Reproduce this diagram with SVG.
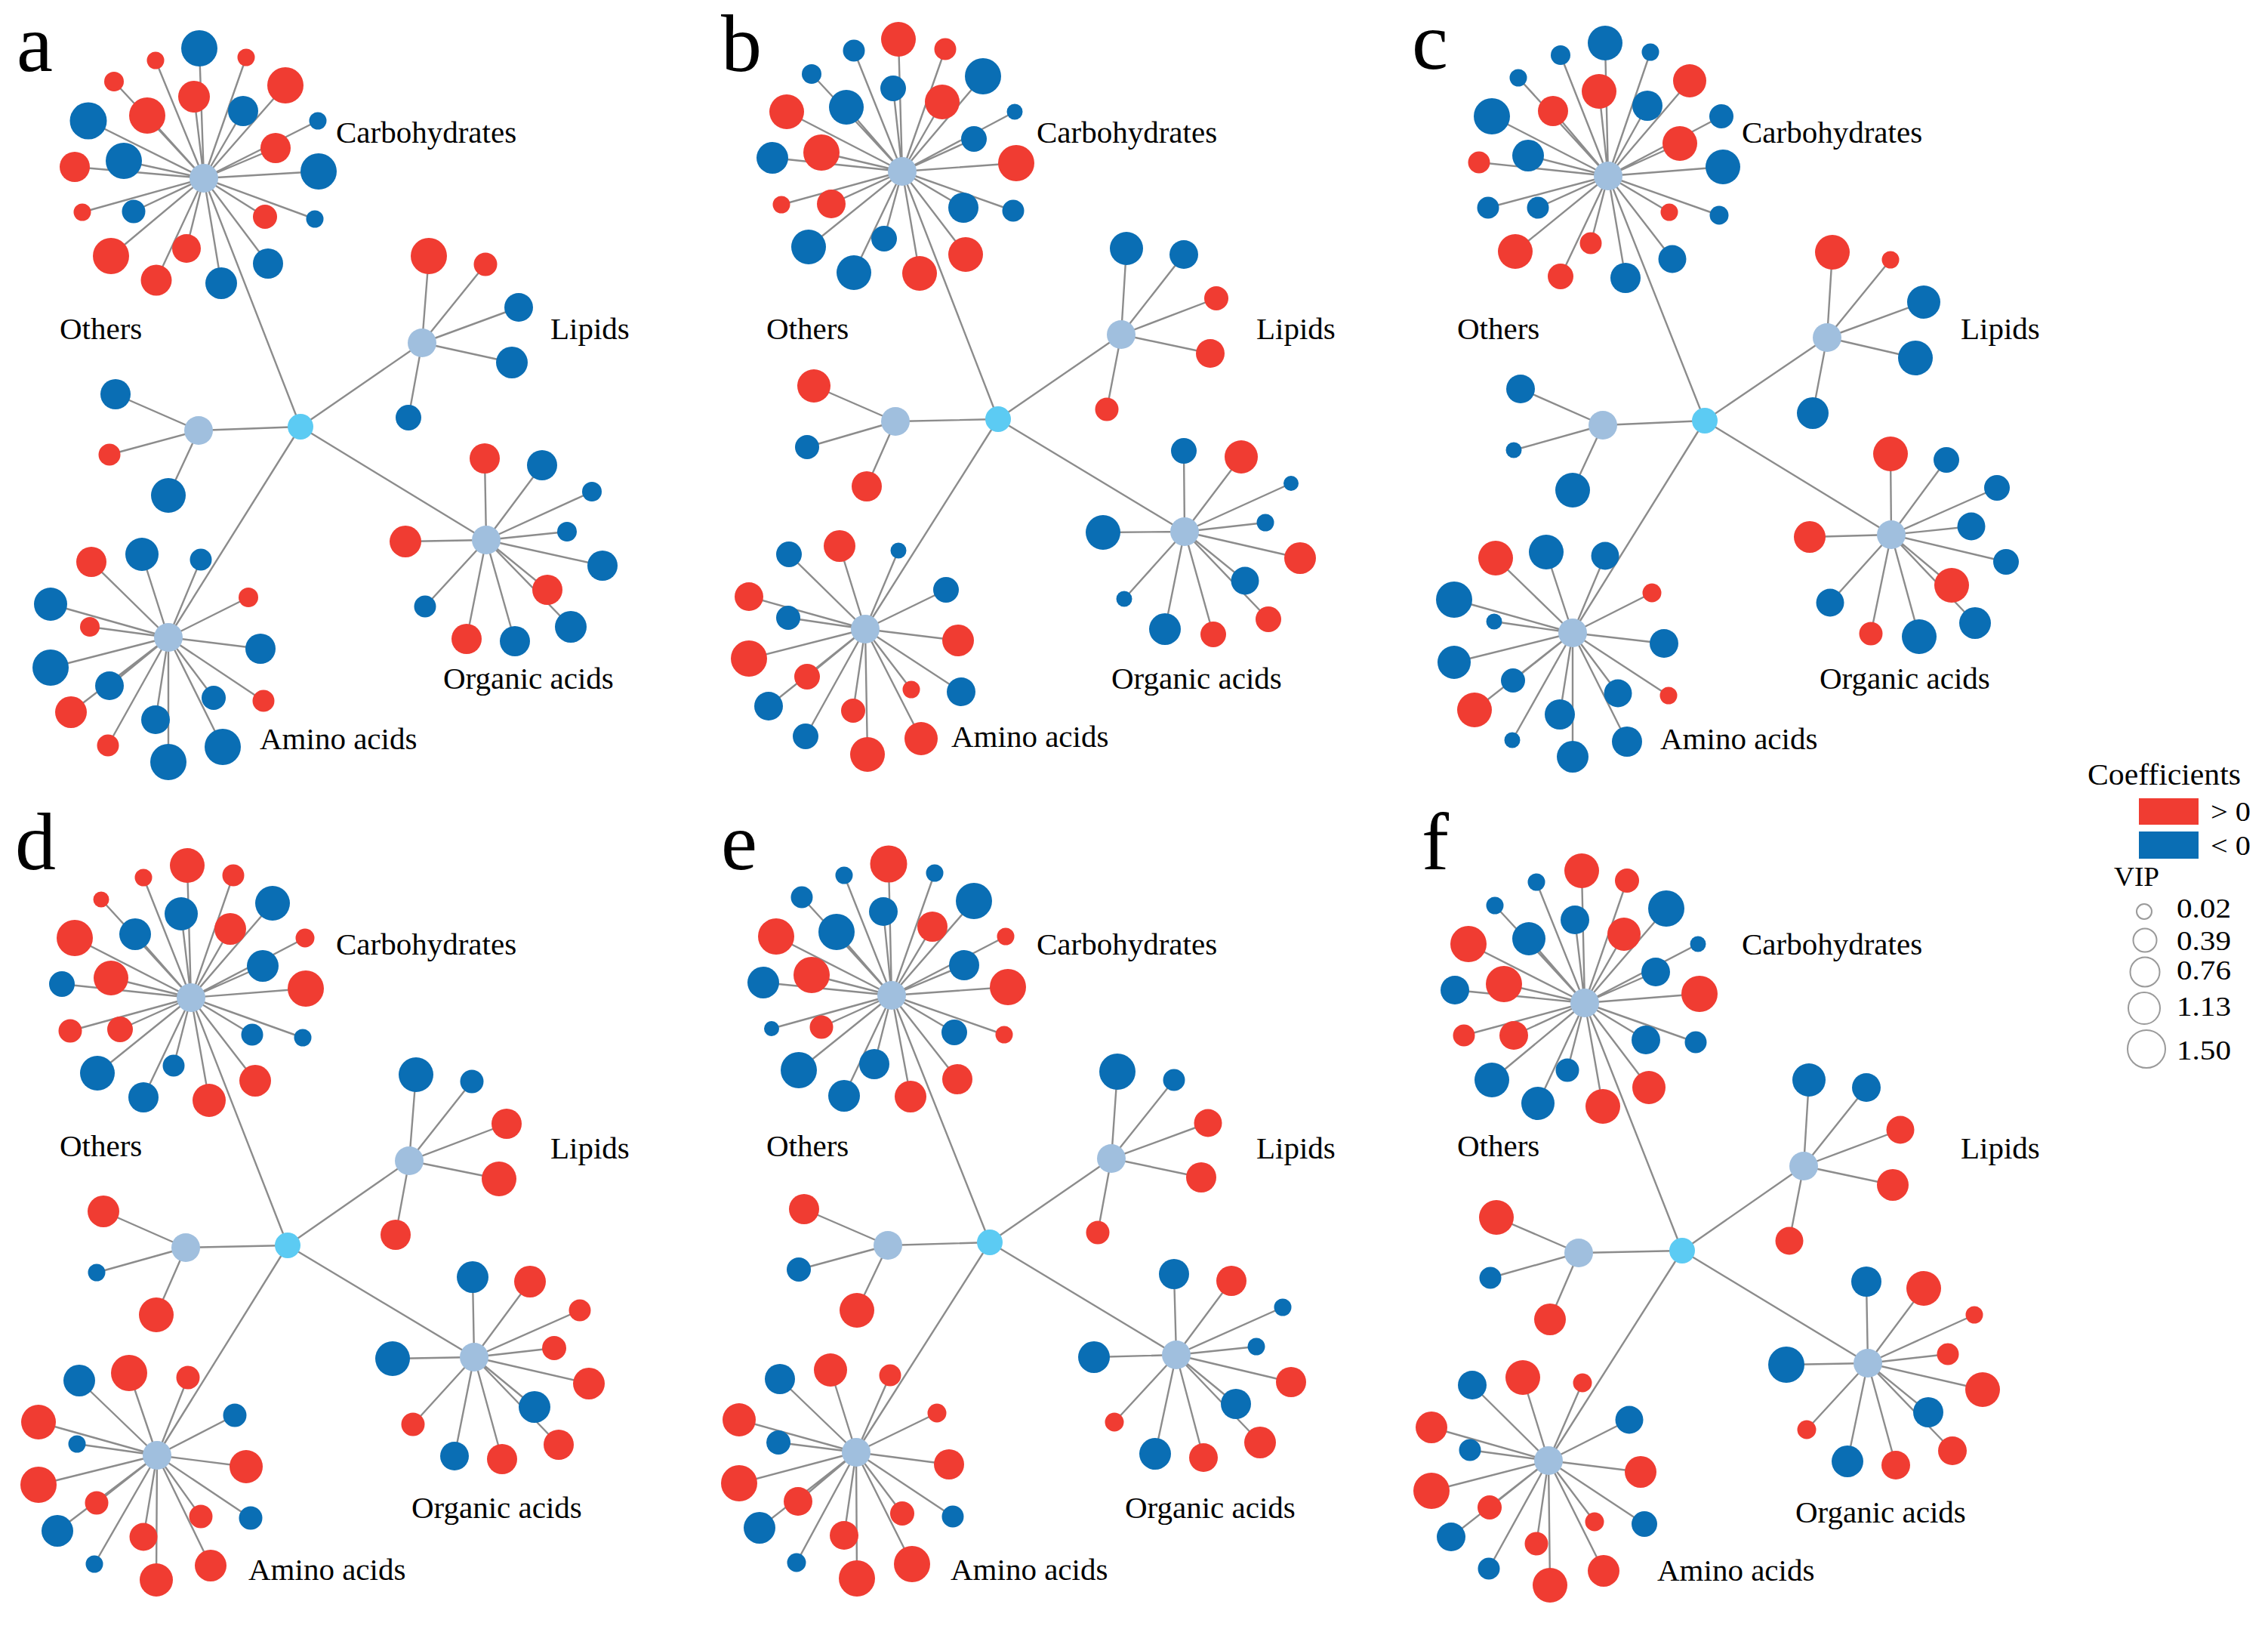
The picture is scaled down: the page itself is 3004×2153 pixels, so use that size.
<svg xmlns="http://www.w3.org/2000/svg" width="3004" height="2153" viewBox="0 0 3004 2153">
<style>
.r{fill:#F03C32}.b{fill:#0A6EB4}.h{fill:#A0BFDE}.c{fill:#5CCBF3}
.e path{stroke:#8C8C8C;stroke-width:2.4;fill:none}
text{font-family:"Liberation Serif","Times New Roman",serif;fill:#000}
.lb{font-size:41px}.pl{font-size:108px}.lg{font-size:35px}
.vc{fill:none;stroke:#9A9A9A;stroke-width:2}
</style>
<rect width="3004" height="2153" fill="#fff"/>

<!-- Panel a -->
<g id="panel-a">
<g id="a-connectors" class="e">
<path d="M398 565L270 236M398 565L559 454M398 565L263 570M398 565L644 715M398 565L223 844"/>
<path d="M270 236L264 64M270 236L206 80M270 236L326 76M270 236L151 108M270 236L378 113M270 236L257 128M270 236L195 153M270 236L322 147M270 236L117 160M270 236L421 160M270 236L365 196M270 236L164 213M270 236L99 221M270 236L422 227M270 236L109 281M270 236L177 280M270 236L351 287M270 236L417 290M270 236L247 329M270 236L147 339M270 236L355 349M270 236L207 371M270 236L293 375"/>
<path d="M559 454L568 339M559 454L643 350M559 454L687 407M559 454L678 480M559 454L541 553"/>
<path d="M263 570L153 522M263 570L145 602M263 570L223 656"/>
<path d="M644 715L642 607M644 715L718 616M644 715L784 651M644 715L537 717M644 715L751 704M644 715L798 749M644 715L725 781M644 715L756 830M644 715L563 803M644 715L618 846M644 715L682 849"/>
<path d="M223 844L121 744M223 844L188 734M223 844L266 741M223 844L67 800M223 844L329 791M223 844L119 830M223 844L345 859M223 844L67 884M223 844L145 908M223 844L94 943M223 844L283 924M223 844L349 928M223 844L206 953M223 844L143 987M223 844L295 989M223 844L223 1009"/>
</g>
<g id="a-carbohydrates">
<circle id="a-c1" class="b" cx="264" cy="64" r="24"/><circle id="a-c2" class="r" cx="206" cy="80" r="11.5"/><circle id="a-c3" class="r" cx="326" cy="76" r="11.5"/><circle id="a-c4" class="r" cx="151" cy="108" r="13"/><circle id="a-c5" class="r" cx="378" cy="113" r="24"/><circle id="a-c6" class="r" cx="257" cy="128" r="21"/><circle id="a-c7" class="r" cx="195" cy="153" r="24"/><circle id="a-c8" class="b" cx="322" cy="147" r="20"/><circle id="a-c9" class="b" cx="117" cy="160" r="24.5"/><circle id="a-c10" class="b" cx="421" cy="160" r="11.5"/><circle id="a-c11" class="r" cx="365" cy="196" r="20"/><circle id="a-c12" class="b" cx="164" cy="213" r="24"/><circle id="a-c13" class="r" cx="99" cy="221" r="20"/><circle id="a-c14" class="b" cx="422" cy="227" r="24"/><circle id="a-c15" class="r" cx="109" cy="281" r="11.5"/><circle id="a-c16" class="b" cx="177" cy="280" r="15.5"/><circle id="a-c17" class="r" cx="351" cy="287" r="16"/><circle id="a-c18" class="b" cx="417" cy="290" r="11.5"/><circle id="a-c19" class="r" cx="247" cy="329" r="19"/><circle id="a-c20" class="r" cx="147" cy="339" r="24"/><circle id="a-c21" class="b" cx="355" cy="349" r="20"/><circle id="a-c22" class="r" cx="207" cy="371" r="20.5"/><circle id="a-c23" class="b" cx="293" cy="375" r="21"/>
<circle id="a-carb-hub" class="h" cx="270" cy="236" r="19"/>
</g>
<g id="a-lipids">
<circle id="a-l1" class="r" cx="568" cy="339" r="24"/><circle id="a-l2" class="r" cx="643" cy="350" r="15.5"/><circle id="a-l3" class="b" cx="687" cy="407" r="19"/><circle id="a-l4" class="b" cx="678" cy="480" r="21"/><circle id="a-l5" class="b" cx="541" cy="553" r="17"/>
<circle id="a-lip-hub" class="h" cx="559" cy="454" r="19"/>
</g>
<g id="a-others">
<circle id="a-o1" class="b" cx="153" cy="522" r="20"/><circle id="a-o2" class="r" cx="145" cy="602" r="14.5"/><circle id="a-o3" class="b" cx="223" cy="656" r="23"/>
<circle id="a-oth-hub" class="h" cx="263" cy="570" r="19"/>
</g>
<g id="a-organic">
<circle id="a-g1" class="r" cx="642" cy="607" r="20"/><circle id="a-g2" class="b" cx="718" cy="616" r="20"/><circle id="a-g3" class="b" cx="784" cy="651" r="13"/><circle id="a-g4" class="r" cx="537" cy="717" r="21"/><circle id="a-g5" class="b" cx="751" cy="704" r="13"/><circle id="a-g6" class="b" cx="798" cy="749" r="20"/><circle id="a-g7" class="r" cx="725" cy="781" r="20"/><circle id="a-g8" class="b" cx="756" cy="830" r="21"/><circle id="a-g9" class="b" cx="563" cy="803" r="14.5"/><circle id="a-g10" class="r" cx="618" cy="846" r="20"/><circle id="a-g11" class="b" cx="682" cy="849" r="20"/>
<circle id="a-org-hub" class="h" cx="644" cy="715" r="19"/>
</g>
<g id="a-amino">
<circle id="a-m1" class="r" cx="121" cy="744" r="20"/><circle id="a-m2" class="b" cx="188" cy="734" r="22"/><circle id="a-m3" class="b" cx="266" cy="741" r="14.5"/><circle id="a-m4" class="b" cx="67" cy="800" r="22"/><circle id="a-m5" class="r" cx="329" cy="791" r="13"/><circle id="a-m6" class="r" cx="119" cy="830" r="13"/><circle id="a-m7" class="b" cx="345" cy="859" r="20"/><circle id="a-m8" class="b" cx="67" cy="884" r="24"/><circle id="a-m9" class="b" cx="145" cy="908" r="19"/><circle id="a-m10" class="r" cx="94" cy="943" r="21"/><circle id="a-m11" class="b" cx="283" cy="924" r="16"/><circle id="a-m12" class="r" cx="349" cy="928" r="14.5"/><circle id="a-m13" class="b" cx="206" cy="953" r="19"/><circle id="a-m14" class="r" cx="143" cy="987" r="14.5"/><circle id="a-m15" class="b" cx="295" cy="989" r="24"/><circle id="a-m16" class="b" cx="223" cy="1009" r="24"/>
<circle id="a-ami-hub" class="h" cx="223" cy="844" r="19"/>
</g>
<g id="a-root"><circle class="c" cx="398" cy="565" r="17"/></g>
<text class="pl" x="22" y="94">a</text>
<text class="lb" x="445" y="189">Carbohydrates</text>
<text class="lb" x="79" y="449">Others</text>
<text class="lb" x="729" y="449">Lipids</text>
<text class="lb" x="587" y="912">Organic acids</text>
<text class="lb" x="344" y="992">Amino acids</text>
</g>

<!-- Panel b -->
<g id="panel-b">
<g id="b-connectors" class="e">
<path d="M1322 555L1195 227M1322 555L1485 443M1322 555L1186 558M1322 555L1569 704M1322 555L1146 833"/>
<path d="M1195 227L1190 52M1195 227L1131 67M1195 227L1252 65M1195 227L1075 98M1195 227L1302 101M1195 227L1183 117M1195 227L1121 142M1195 227L1248 135M1195 227L1042 148M1195 227L1344 148M1195 227L1290 184M1195 227L1088 202M1195 227L1023 209M1195 227L1346 216M1195 227L1035 271M1195 227L1101 270M1195 227L1276 275M1195 227L1342 279M1195 227L1171 316M1195 227L1071 327M1195 227L1279 337M1195 227L1131 361M1195 227L1218 362"/>
<path d="M1485 443L1492 329M1485 443L1568 337M1485 443L1611 395M1485 443L1603 468M1485 443L1466 542"/>
<path d="M1186 558L1078 511M1186 558L1069 592M1186 558L1148 644"/>
<path d="M1569 704L1568 597M1569 704L1644 605M1569 704L1710 640M1569 704L1461 705M1569 704L1676 692M1569 704L1722 739M1569 704L1649 769M1569 704L1489 793M1569 704L1680 820M1569 704L1543 833M1569 704L1607 840"/>
<path d="M1146 833L1045 734M1146 833L1112 723M1146 833L1190 729M1146 833L992 790M1146 833L1253 781M1146 833L1044 818M1146 833L1269 848M1146 833L992 872M1146 833L1069 896M1146 833L1018 935M1146 833L1207 913M1146 833L1273 916M1146 833L1130 941M1146 833L1067 975M1146 833L1220 978M1146 833L1149 999"/>
</g>
<g id="b-carbohydrates">
<circle id="b-c1" class="r" cx="1190" cy="52" r="23"/><circle id="b-c2" class="b" cx="1131" cy="67" r="14.5"/><circle id="b-c3" class="r" cx="1252" cy="65" r="14.5"/><circle id="b-c4" class="b" cx="1075" cy="98" r="13"/><circle id="b-c5" class="b" cx="1302" cy="101" r="24"/><circle id="b-c6" class="b" cx="1183" cy="117" r="17"/><circle id="b-c7" class="b" cx="1121" cy="142" r="23"/><circle id="b-c8" class="r" cx="1248" cy="135" r="23"/><circle id="b-c9" class="r" cx="1042" cy="148" r="23"/><circle id="b-c10" class="b" cx="1344" cy="148" r="10.5"/><circle id="b-c11" class="b" cx="1290" cy="184" r="17"/><circle id="b-c12" class="r" cx="1088" cy="202" r="24"/><circle id="b-c13" class="b" cx="1023" cy="209" r="21"/><circle id="b-c14" class="r" cx="1346" cy="216" r="24"/><circle id="b-c15" class="r" cx="1035" cy="271" r="11.5"/><circle id="b-c16" class="r" cx="1101" cy="270" r="19"/><circle id="b-c17" class="b" cx="1276" cy="275" r="20"/><circle id="b-c18" class="b" cx="1342" cy="279" r="14.5"/><circle id="b-c19" class="b" cx="1171" cy="316" r="17"/><circle id="b-c20" class="b" cx="1071" cy="327" r="23"/><circle id="b-c21" class="r" cx="1279" cy="337" r="23"/><circle id="b-c22" class="b" cx="1131" cy="361" r="23"/><circle id="b-c23" class="r" cx="1218" cy="362" r="23"/>
<circle id="b-carb-hub" class="h" cx="1195" cy="227" r="19"/>
</g>
<g id="b-lipids">
<circle id="b-l1" class="b" cx="1492" cy="329" r="22"/><circle id="b-l2" class="b" cx="1568" cy="337" r="19"/><circle id="b-l3" class="r" cx="1611" cy="395" r="16"/><circle id="b-l4" class="r" cx="1603" cy="468" r="19"/><circle id="b-l5" class="r" cx="1466" cy="542" r="15.5"/>
<circle id="b-lip-hub" class="h" cx="1485" cy="443" r="19"/>
</g>
<g id="b-others">
<circle id="b-o1" class="r" cx="1078" cy="511" r="22"/><circle id="b-o2" class="b" cx="1069" cy="592" r="16"/><circle id="b-o3" class="r" cx="1148" cy="644" r="20"/>
<circle id="b-oth-hub" class="h" cx="1186" cy="558" r="19"/>
</g>
<g id="b-organic">
<circle id="b-g1" class="b" cx="1568" cy="597" r="17"/><circle id="b-g2" class="r" cx="1644" cy="605" r="22"/><circle id="b-g3" class="b" cx="1710" cy="640" r="10"/><circle id="b-g4" class="b" cx="1461" cy="705" r="23"/><circle id="b-g5" class="b" cx="1676" cy="692" r="11.5"/><circle id="b-g6" class="r" cx="1722" cy="739" r="21"/><circle id="b-g7" class="b" cx="1649" cy="769" r="18.5"/><circle id="b-g8" class="b" cx="1489" cy="793" r="10.5"/><circle id="b-g9" class="r" cx="1680" cy="820" r="17"/><circle id="b-g10" class="b" cx="1543" cy="833" r="21"/><circle id="b-g11" class="r" cx="1607" cy="840" r="17"/>
<circle id="b-org-hub" class="h" cx="1569" cy="704" r="19"/>
</g>
<g id="b-amino">
<circle id="b-m1" class="b" cx="1045" cy="734" r="17"/><circle id="b-m2" class="r" cx="1112" cy="723" r="21"/><circle id="b-m3" class="b" cx="1190" cy="729" r="10.5"/><circle id="b-m4" class="r" cx="992" cy="790" r="19"/><circle id="b-m5" class="b" cx="1253" cy="781" r="17"/><circle id="b-m6" class="b" cx="1044" cy="818" r="16"/><circle id="b-m7" class="r" cx="1269" cy="848" r="21"/><circle id="b-m8" class="r" cx="992" cy="872" r="24"/><circle id="b-m9" class="r" cx="1069" cy="896" r="17"/><circle id="b-m10" class="b" cx="1018" cy="935" r="19"/><circle id="b-m11" class="r" cx="1207" cy="913" r="11.5"/><circle id="b-m12" class="b" cx="1273" cy="916" r="19"/><circle id="b-m13" class="r" cx="1130" cy="941" r="16"/><circle id="b-m14" class="b" cx="1067" cy="975" r="17"/><circle id="b-m15" class="r" cx="1220" cy="978" r="22"/><circle id="b-m16" class="r" cx="1149" cy="999" r="23"/>
<circle id="b-ami-hub" class="h" cx="1146" cy="833" r="19"/>
</g>
<g id="b-root"><circle class="c" cx="1322" cy="555" r="17"/></g>
<text class="pl" x="955" y="94">b</text>
<text class="lb" x="1373" y="189">Carbohydrates</text>
<text class="lb" x="1015" y="449">Others</text>
<text class="lb" x="1664" y="449">Lipids</text>
<text class="lb" x="1472" y="912">Organic acids</text>
<text class="lb" x="1260" y="989">Amino acids</text>
</g>

<!-- Panel c -->
<g id="panel-c">
<g id="c-connectors" class="e">
<path d="M2258 557L2130 233M2258 557L2420 447M2258 557L2123 563M2258 557L2505 708M2258 557L2083 838"/>
<path d="M2130 233L2126 57M2130 233L2067 73M2130 233L2186 69M2130 233L2011 103M2130 233L2238 107M2130 233L2118 121M2130 233L2057 147M2130 233L2182 140M2130 233L1976 154M2130 233L2280 154M2130 233L2225 190M2130 233L2024 206M2130 233L1959 215M2130 233L2282 221M2130 233L1971 275M2130 233L2037 275M2130 233L2211 281M2130 233L2277 285M2130 233L2107 322M2130 233L2007 333M2130 233L2215 343M2130 233L2067 366M2130 233L2153 368"/>
<path d="M2420 447L2427 334M2420 447L2504 344M2420 447L2548 400M2420 447L2537 474M2420 447L2401 547"/>
<path d="M2123 563L2014 515M2123 563L2005 596M2123 563L2083 649"/>
<path d="M2505 708L2504 601M2505 708L2578 609M2505 708L2645 646M2505 708L2397 711M2505 708L2611 697M2505 708L2657 744M2505 708L2585 775M2505 708L2424 798M2505 708L2616 825M2505 708L2478 839M2505 708L2542 843"/>
<path d="M2083 838L1981 739M2083 838L2048 731M2083 838L2126 736M2083 838L1926 794M2083 838L2188 785M2083 838L1979 823M2083 838L2204 852M2083 838L1926 877M2083 838L2004 901M2083 838L1953 940M2083 838L2143 918M2083 838L2210 921M2083 838L2066 946M2083 838L2003 980M2083 838L2155 982M2083 838L2083 1002"/>
</g>
<g id="c-carbohydrates">
<circle id="c-c1" class="b" cx="2126" cy="57" r="23"/><circle id="c-c2" class="b" cx="2067" cy="73" r="13"/><circle id="c-c3" class="b" cx="2186" cy="69" r="11.5"/><circle id="c-c4" class="b" cx="2011" cy="103" r="11.5"/><circle id="c-c5" class="r" cx="2238" cy="107" r="22"/><circle id="c-c6" class="r" cx="2118" cy="121" r="23"/><circle id="c-c7" class="r" cx="2057" cy="147" r="20"/><circle id="c-c8" class="b" cx="2182" cy="140" r="20"/><circle id="c-c9" class="b" cx="1976" cy="154" r="24"/><circle id="c-c10" class="b" cx="2280" cy="154" r="16"/><circle id="c-c11" class="r" cx="2225" cy="190" r="23"/><circle id="c-c12" class="b" cx="2024" cy="206" r="21"/><circle id="c-c13" class="r" cx="1959" cy="215" r="14.5"/><circle id="c-c14" class="b" cx="2282" cy="221" r="23"/><circle id="c-c15" class="b" cx="1971" cy="275" r="14.5"/><circle id="c-c16" class="b" cx="2037" cy="275" r="14.5"/><circle id="c-c17" class="r" cx="2211" cy="281" r="11.5"/><circle id="c-c18" class="b" cx="2277" cy="285" r="12.5"/><circle id="c-c19" class="r" cx="2107" cy="322" r="14.5"/><circle id="c-c20" class="r" cx="2007" cy="333" r="23"/><circle id="c-c21" class="b" cx="2215" cy="343" r="18.5"/><circle id="c-c22" class="r" cx="2067" cy="366" r="17"/><circle id="c-c23" class="b" cx="2153" cy="368" r="20"/>
<circle id="c-carb-hub" class="h" cx="2130" cy="233" r="19"/>
</g>
<g id="c-lipids">
<circle id="c-l1" class="r" cx="2427" cy="334" r="23"/><circle id="c-l2" class="r" cx="2504" cy="344" r="11.5"/><circle id="c-l3" class="b" cx="2548" cy="400" r="22"/><circle id="c-l4" class="b" cx="2537" cy="474" r="23"/><circle id="c-l5" class="b" cx="2401" cy="547" r="21"/>
<circle id="c-lip-hub" class="h" cx="2420" cy="447" r="19"/>
</g>
<g id="c-others">
<circle id="c-o1" class="b" cx="2014" cy="515" r="19"/><circle id="c-o2" class="b" cx="2005" cy="596" r="10.5"/><circle id="c-o3" class="b" cx="2083" cy="649" r="23"/>
<circle id="c-oth-hub" class="h" cx="2123" cy="563" r="19"/>
</g>
<g id="c-organic">
<circle id="c-g1" class="r" cx="2504" cy="601" r="23"/><circle id="c-g2" class="b" cx="2578" cy="609" r="17"/><circle id="c-g3" class="b" cx="2645" cy="646" r="17"/><circle id="c-g4" class="r" cx="2397" cy="711" r="21"/><circle id="c-g5" class="b" cx="2611" cy="697" r="18.5"/><circle id="c-g6" class="b" cx="2657" cy="744" r="17"/><circle id="c-g7" class="r" cx="2585" cy="775" r="23"/><circle id="c-g8" class="b" cx="2424" cy="798" r="18.5"/><circle id="c-g9" class="b" cx="2616" cy="825" r="21"/><circle id="c-g10" class="r" cx="2478" cy="839" r="15.5"/><circle id="c-g11" class="b" cx="2542" cy="843" r="23"/>
<circle id="c-org-hub" class="h" cx="2505" cy="708" r="19"/>
</g>
<g id="c-amino">
<circle id="c-m1" class="r" cx="1981" cy="739" r="23"/><circle id="c-m2" class="b" cx="2048" cy="731" r="23"/><circle id="c-m3" class="b" cx="2126" cy="736" r="18.5"/><circle id="c-m4" class="b" cx="1926" cy="794" r="24"/><circle id="c-m5" class="r" cx="2188" cy="785" r="12.5"/><circle id="c-m6" class="b" cx="1979" cy="823" r="10.5"/><circle id="c-m7" class="b" cx="2204" cy="852" r="19"/><circle id="c-m8" class="b" cx="1926" cy="877" r="22"/><circle id="c-m9" class="b" cx="2004" cy="901" r="16"/><circle id="c-m10" class="r" cx="1953" cy="940" r="23"/><circle id="c-m11" class="b" cx="2143" cy="918" r="18.5"/><circle id="c-m12" class="r" cx="2210" cy="921" r="11.5"/><circle id="c-m13" class="b" cx="2066" cy="946" r="20"/><circle id="c-m14" class="b" cx="2003" cy="980" r="10.5"/><circle id="c-m15" class="b" cx="2155" cy="982" r="20"/><circle id="c-m16" class="b" cx="2083" cy="1002" r="21"/>
<circle id="c-ami-hub" class="h" cx="2083" cy="838" r="19"/>
</g>
<g id="c-root"><circle class="c" cx="2258" cy="557" r="17"/></g>
<text class="pl" x="1870" y="91">c</text>
<text class="lb" x="2307" y="189">Carbohydrates</text>
<text class="lb" x="1930" y="449">Others</text>
<text class="lb" x="2597" y="449">Lipids</text>
<text class="lb" x="2410" y="912">Organic acids</text>
<text class="lb" x="2199" y="992">Amino acids</text>
</g>

<!-- Panel d -->
<g id="panel-d">
<g id="d-connectors" class="e">
<path d="M381 1649L253 1321M381 1649L542 1537M381 1649L246 1652M381 1649L628 1797M381 1649L208 1927"/>
<path d="M253 1321L248 1146M253 1321L190 1162M253 1321L309 1159M253 1321L134 1191M253 1321L361 1196M253 1321L240 1210M253 1321L179 1237M253 1321L305 1230M253 1321L99 1242M253 1321L404 1242M253 1321L348 1279M253 1321L147 1295M253 1321L82 1303M253 1321L405 1309M253 1321L93 1365M253 1321L159 1363M253 1321L334 1370M253 1321L401 1374M253 1321L230 1411M253 1321L129 1421M253 1321L338 1431M253 1321L190 1453M253 1321L277 1457"/>
<path d="M542 1537L551 1423M542 1537L625 1432M542 1537L671 1488M542 1537L661 1561M542 1537L524 1635"/>
<path d="M246 1652L137 1604M246 1652L128 1685M246 1652L207 1741"/>
<path d="M628 1797L626 1691M628 1797L702 1697M628 1797L768 1735M628 1797L520 1799M628 1797L734 1785M628 1797L780 1832M628 1797L708 1863M628 1797L547 1886M628 1797L740 1913M628 1797L602 1928M628 1797L665 1932"/>
<path d="M208 1927L105 1828M208 1927L171 1818M208 1927L249 1824M208 1927L51 1883M208 1927L311 1874M208 1927L102 1912M208 1927L326 1942M208 1927L51 1966M208 1927L128 1990M208 1927L76 2027M208 1927L266 2008M208 1927L332 2010M208 1927L190 2035M208 1927L125 2071M208 1927L279 2073M208 1927L207 2092"/>
</g>
<g id="d-carbohydrates">
<circle id="d-c1" class="r" cx="248" cy="1146" r="23"/><circle id="d-c2" class="r" cx="190" cy="1162" r="11.5"/><circle id="d-c3" class="r" cx="309" cy="1159" r="14.5"/><circle id="d-c4" class="r" cx="134" cy="1191" r="10.5"/><circle id="d-c5" class="b" cx="361" cy="1196" r="23"/><circle id="d-c6" class="b" cx="240" cy="1210" r="22"/><circle id="d-c7" class="b" cx="179" cy="1237" r="21"/><circle id="d-c8" class="r" cx="305" cy="1230" r="21"/><circle id="d-c9" class="r" cx="99" cy="1242" r="24"/><circle id="d-c10" class="r" cx="404" cy="1242" r="12.5"/><circle id="d-c11" class="b" cx="348" cy="1279" r="21"/><circle id="d-c12" class="r" cx="147" cy="1295" r="23"/><circle id="d-c13" class="b" cx="82" cy="1303" r="17"/><circle id="d-c14" class="r" cx="405" cy="1309" r="24"/><circle id="d-c15" class="r" cx="93" cy="1365" r="15.5"/><circle id="d-c16" class="r" cx="159" cy="1363" r="17"/><circle id="d-c17" class="b" cx="334" cy="1370" r="14.5"/><circle id="d-c18" class="b" cx="401" cy="1374" r="11.5"/><circle id="d-c19" class="b" cx="230" cy="1411" r="14.5"/><circle id="d-c20" class="b" cx="129" cy="1421" r="23"/><circle id="d-c21" class="r" cx="338" cy="1431" r="21"/><circle id="d-c22" class="b" cx="190" cy="1453" r="20"/><circle id="d-c23" class="r" cx="277" cy="1457" r="22"/>
<circle id="d-carb-hub" class="h" cx="253" cy="1321" r="19"/>
</g>
<g id="d-lipids">
<circle id="d-l1" class="b" cx="551" cy="1423" r="23"/><circle id="d-l2" class="b" cx="625" cy="1432" r="15.5"/><circle id="d-l3" class="r" cx="671" cy="1488" r="20"/><circle id="d-l4" class="r" cx="661" cy="1561" r="23"/><circle id="d-l5" class="r" cx="524" cy="1635" r="20"/>
<circle id="d-lip-hub" class="h" cx="542" cy="1537" r="19"/>
</g>
<g id="d-others">
<circle id="d-o1" class="r" cx="137" cy="1604" r="21"/><circle id="d-o2" class="b" cx="128" cy="1685" r="11.5"/><circle id="d-o3" class="r" cx="207" cy="1741" r="23"/>
<circle id="d-oth-hub" class="h" cx="246" cy="1652" r="19"/>
</g>
<g id="d-organic">
<circle id="d-g1" class="b" cx="626" cy="1691" r="21"/><circle id="d-g2" class="r" cx="702" cy="1697" r="21"/><circle id="d-g3" class="r" cx="768" cy="1735" r="14.5"/><circle id="d-g4" class="b" cx="520" cy="1799" r="23"/><circle id="d-g5" class="r" cx="734" cy="1785" r="16"/><circle id="d-g6" class="r" cx="780" cy="1832" r="21"/><circle id="d-g7" class="b" cx="708" cy="1863" r="21"/><circle id="d-g8" class="r" cx="547" cy="1886" r="15.5"/><circle id="d-g9" class="r" cx="740" cy="1913" r="20"/><circle id="d-g10" class="b" cx="602" cy="1928" r="19"/><circle id="d-g11" class="r" cx="665" cy="1932" r="20"/>
<circle id="d-org-hub" class="h" cx="628" cy="1797" r="19"/>
</g>
<g id="d-amino">
<circle id="d-m1" class="b" cx="105" cy="1828" r="21"/><circle id="d-m2" class="r" cx="171" cy="1818" r="24"/><circle id="d-m3" class="r" cx="249" cy="1824" r="15.5"/><circle id="d-m4" class="r" cx="51" cy="1883" r="23"/><circle id="d-m5" class="b" cx="311" cy="1874" r="15.5"/><circle id="d-m6" class="b" cx="102" cy="1912" r="11.5"/><circle id="d-m7" class="r" cx="326" cy="1942" r="22"/><circle id="d-m8" class="r" cx="51" cy="1966" r="24"/><circle id="d-m9" class="r" cx="128" cy="1990" r="15.5"/><circle id="d-m10" class="b" cx="76" cy="2027" r="21"/><circle id="d-m11" class="r" cx="266" cy="2008" r="15.5"/><circle id="d-m12" class="b" cx="332" cy="2010" r="15.5"/><circle id="d-m13" class="r" cx="190" cy="2035" r="18.5"/><circle id="d-m14" class="b" cx="125" cy="2071" r="11.5"/><circle id="d-m15" class="r" cx="279" cy="2073" r="21"/><circle id="d-m16" class="r" cx="207" cy="2092" r="22"/>
<circle id="d-ami-hub" class="h" cx="208" cy="1927" r="19"/>
</g>
<g id="d-root"><circle class="c" cx="381" cy="1649" r="17"/></g>
<text class="pl" x="20" y="1151">d</text>
<text class="lb" x="445" y="1264">Carbohydrates</text>
<text class="lb" x="79" y="1531">Others</text>
<text class="lb" x="729" y="1534">Lipids</text>
<text class="lb" x="545" y="2010">Organic acids</text>
<text class="lb" x="329" y="2092">Amino acids</text>
</g>

<!-- Panel e -->
<g id="panel-e">
<g id="e-connectors" class="e">
<path d="M1311 1645L1181 1318M1311 1645L1472 1534M1311 1645L1176 1649M1311 1645L1558 1794M1311 1645L1134 1923"/>
<path d="M1181 1318L1177 1144M1181 1318L1118 1159M1181 1318L1238 1156M1181 1318L1062 1188M1181 1318L1290 1193M1181 1318L1170 1207M1181 1318L1108 1234M1181 1318L1235 1227M1181 1318L1028 1240M1181 1318L1332 1240M1181 1318L1277 1278M1181 1318L1075 1291M1181 1318L1011 1301M1181 1318L1335 1307M1181 1318L1022 1362M1181 1318L1088 1360M1181 1318L1264 1367M1181 1318L1330 1370M1181 1318L1158 1409M1181 1318L1058 1417M1181 1318L1268 1429M1181 1318L1118 1451M1181 1318L1206 1452"/>
<path d="M1472 1534L1480 1419M1472 1534L1555 1430M1472 1534L1600 1487M1472 1534L1591 1559M1472 1534L1454 1632"/>
<path d="M1176 1649L1065 1601M1176 1649L1058 1681M1176 1649L1135 1735"/>
<path d="M1558 1794L1555 1687M1558 1794L1631 1696M1558 1794L1699 1731M1558 1794L1449 1797M1558 1794L1664 1783M1558 1794L1710 1830M1558 1794L1637 1859M1558 1794L1476 1883M1558 1794L1669 1910M1558 1794L1530 1925M1558 1794L1594 1930"/>
<path d="M1134 1923L1033 1826M1134 1923L1100 1814M1134 1923L1179 1821M1134 1923L979 1880M1134 1923L1241 1871M1134 1923L1031 1910M1134 1923L1257 1939M1134 1923L979 1964M1134 1923L1057 1988M1134 1923L1006 2023M1134 1923L1195 2004M1134 1923L1262 2008M1134 1923L1118 2033M1134 1923L1055 2069M1134 1923L1208 2071M1134 1923L1135 2090"/>
</g>
<g id="e-carbohydrates">
<circle id="e-c1" class="r" cx="1177" cy="1144" r="24.5"/><circle id="e-c2" class="b" cx="1118" cy="1159" r="11.5"/><circle id="e-c3" class="b" cx="1238" cy="1156" r="11.5"/><circle id="e-c4" class="b" cx="1062" cy="1188" r="14.5"/><circle id="e-c5" class="b" cx="1290" cy="1193" r="24"/><circle id="e-c6" class="b" cx="1170" cy="1207" r="19"/><circle id="e-c7" class="b" cx="1108" cy="1234" r="24"/><circle id="e-c8" class="r" cx="1235" cy="1227" r="20"/><circle id="e-c9" class="r" cx="1028" cy="1240" r="24"/><circle id="e-c10" class="r" cx="1332" cy="1240" r="11.5"/><circle id="e-c11" class="b" cx="1277" cy="1278" r="20"/><circle id="e-c12" class="r" cx="1075" cy="1291" r="24"/><circle id="e-c13" class="b" cx="1011" cy="1301" r="21"/><circle id="e-c14" class="r" cx="1335" cy="1307" r="24"/><circle id="e-c15" class="b" cx="1022" cy="1362" r="10"/><circle id="e-c16" class="r" cx="1088" cy="1360" r="15.5"/><circle id="e-c17" class="b" cx="1264" cy="1367" r="17"/><circle id="e-c18" class="r" cx="1330" cy="1370" r="11.5"/><circle id="e-c19" class="b" cx="1158" cy="1409" r="20"/><circle id="e-c20" class="b" cx="1058" cy="1417" r="24"/><circle id="e-c21" class="r" cx="1268" cy="1429" r="20"/><circle id="e-c22" class="b" cx="1118" cy="1451" r="21"/><circle id="e-c23" class="r" cx="1206" cy="1452" r="21"/>
<circle id="e-carb-hub" class="h" cx="1181" cy="1318" r="19"/>
</g>
<g id="e-lipids">
<circle id="e-l1" class="b" cx="1480" cy="1419" r="24"/><circle id="e-l2" class="b" cx="1555" cy="1430" r="14.5"/><circle id="e-l3" class="r" cx="1600" cy="1487" r="18.5"/><circle id="e-l4" class="r" cx="1591" cy="1559" r="20"/><circle id="e-l5" class="r" cx="1454" cy="1632" r="15.5"/>
<circle id="e-lip-hub" class="h" cx="1472" cy="1534" r="19"/>
</g>
<g id="e-others">
<circle id="e-o1" class="r" cx="1065" cy="1601" r="20"/><circle id="e-o2" class="b" cx="1058" cy="1681" r="16"/><circle id="e-o3" class="r" cx="1135" cy="1735" r="23"/>
<circle id="e-oth-hub" class="h" cx="1176" cy="1649" r="19"/>
</g>
<g id="e-organic">
<circle id="e-g1" class="b" cx="1555" cy="1687" r="20"/><circle id="e-g2" class="r" cx="1631" cy="1696" r="20"/><circle id="e-g3" class="b" cx="1699" cy="1731" r="11.5"/><circle id="e-g4" class="b" cx="1449" cy="1797" r="21"/><circle id="e-g5" class="b" cx="1664" cy="1783" r="11.5"/><circle id="e-g6" class="r" cx="1710" cy="1830" r="20"/><circle id="e-g7" class="b" cx="1637" cy="1859" r="20"/><circle id="e-g8" class="r" cx="1476" cy="1883" r="12.5"/><circle id="e-g9" class="r" cx="1669" cy="1910" r="21"/><circle id="e-g10" class="b" cx="1530" cy="1925" r="21"/><circle id="e-g11" class="r" cx="1594" cy="1930" r="19"/>
<circle id="e-org-hub" class="h" cx="1558" cy="1794" r="19"/>
</g>
<g id="e-amino">
<circle id="e-m1" class="b" cx="1033" cy="1826" r="20"/><circle id="e-m2" class="r" cx="1100" cy="1814" r="22"/><circle id="e-m3" class="r" cx="1179" cy="1821" r="14.5"/><circle id="e-m4" class="r" cx="979" cy="1880" r="22"/><circle id="e-m5" class="r" cx="1241" cy="1871" r="12.5"/><circle id="e-m6" class="b" cx="1031" cy="1910" r="16"/><circle id="e-m7" class="r" cx="1257" cy="1939" r="20"/><circle id="e-m8" class="r" cx="979" cy="1964" r="24"/><circle id="e-m9" class="r" cx="1057" cy="1988" r="19"/><circle id="e-m10" class="b" cx="1006" cy="2023" r="21"/><circle id="e-m11" class="r" cx="1195" cy="2004" r="16"/><circle id="e-m12" class="b" cx="1262" cy="2008" r="14.5"/><circle id="e-m13" class="r" cx="1118" cy="2033" r="19"/><circle id="e-m14" class="b" cx="1055" cy="2069" r="12.5"/><circle id="e-m15" class="r" cx="1208" cy="2071" r="24"/><circle id="e-m16" class="r" cx="1135" cy="2090" r="24"/>
<circle id="e-ami-hub" class="h" cx="1134" cy="1923" r="19"/>
</g>
<g id="e-root"><circle class="c" cx="1311" cy="1645" r="17"/></g>
<text class="pl" x="955" y="1151">e</text>
<text class="lb" x="1373" y="1264">Carbohydrates</text>
<text class="lb" x="1015" y="1531">Others</text>
<text class="lb" x="1664" y="1534">Lipids</text>
<text class="lb" x="1490" y="2010">Organic acids</text>
<text class="lb" x="1259" y="2092">Amino acids</text>
</g>

<!-- Panel f -->
<g id="panel-f">
<g id="f-connectors" class="e">
<path d="M2228 1656L2099 1328M2228 1656L2389 1544M2228 1656L2091 1659M2228 1656L2474 1805M2228 1656L2051 1934"/>
<path d="M2099 1328L2095 1153M2099 1328L2035 1168M2099 1328L2155 1166M2099 1328L1980 1199M2099 1328L2207 1203M2099 1328L2086 1218M2099 1328L2025 1243M2099 1328L2151 1237M2099 1328L1945 1250M2099 1328L2249 1250M2099 1328L2193 1287M2099 1328L1992 1303M2099 1328L1927 1311M2099 1328L2251 1316M2099 1328L1939 1371M2099 1328L2005 1371M2099 1328L2180 1377M2099 1328L2246 1380M2099 1328L2076 1417M2099 1328L1976 1430M2099 1328L2184 1440M2099 1328L2037 1461M2099 1328L2123 1465"/>
<path d="M2389 1544L2396 1430M2389 1544L2472 1440M2389 1544L2517 1496M2389 1544L2507 1569M2389 1544L2370 1643"/>
<path d="M2091 1659L1982 1612M2091 1659L1974 1692M2091 1659L2053 1747"/>
<path d="M2474 1805L2472 1697M2474 1805L2548 1706M2474 1805L2615 1741M2474 1805L2366 1807M2474 1805L2580 1793M2474 1805L2626 1840M2474 1805L2554 1870M2474 1805L2393 1893M2474 1805L2586 1921M2474 1805L2447 1935M2474 1805L2511 1940"/>
<path d="M2051 1934L1950 1834M2051 1934L2017 1824M2051 1934L2096 1831M2051 1934L1896 1890M2051 1934L2158 1880M2051 1934L1947 1920M2051 1934L2173 1949M2051 1934L1896 1974M2051 1934L1973 1996M2051 1934L1922 2035M2051 1934L2112 2015M2051 1934L2178 2018M2051 1934L2035 2044M2051 1934L1972 2077M2051 1934L2124 2080M2051 1934L2053 2099"/>
</g>
<g id="f-carbohydrates">
<circle id="f-c1" class="r" cx="2095" cy="1153" r="23"/><circle id="f-c2" class="b" cx="2035" cy="1168" r="11.5"/><circle id="f-c3" class="r" cx="2155" cy="1166" r="16"/><circle id="f-c4" class="b" cx="1980" cy="1199" r="11.5"/><circle id="f-c5" class="b" cx="2207" cy="1203" r="24"/><circle id="f-c6" class="b" cx="2086" cy="1218" r="19"/><circle id="f-c7" class="b" cx="2025" cy="1243" r="22"/><circle id="f-c8" class="r" cx="2151" cy="1237" r="22"/><circle id="f-c9" class="r" cx="1945" cy="1250" r="24"/><circle id="f-c10" class="b" cx="2249" cy="1250" r="10.5"/><circle id="f-c11" class="b" cx="2193" cy="1287" r="19"/><circle id="f-c12" class="r" cx="1992" cy="1303" r="24"/><circle id="f-c13" class="b" cx="1927" cy="1311" r="19"/><circle id="f-c14" class="r" cx="2251" cy="1316" r="24"/><circle id="f-c15" class="r" cx="1939" cy="1371" r="14.5"/><circle id="f-c16" class="r" cx="2005" cy="1371" r="19"/><circle id="f-c17" class="b" cx="2180" cy="1377" r="19"/><circle id="f-c18" class="b" cx="2246" cy="1380" r="14.5"/><circle id="f-c19" class="b" cx="2076" cy="1417" r="15.5"/><circle id="f-c20" class="b" cx="1976" cy="1430" r="23"/><circle id="f-c21" class="r" cx="2184" cy="1440" r="22"/><circle id="f-c22" class="b" cx="2037" cy="1461" r="22"/><circle id="f-c23" class="r" cx="2123" cy="1465" r="23"/>
<circle id="f-carb-hub" class="h" cx="2099" cy="1328" r="19"/>
</g>
<g id="f-lipids">
<circle id="f-l1" class="b" cx="2396" cy="1430" r="22"/><circle id="f-l2" class="b" cx="2472" cy="1440" r="19"/><circle id="f-l3" class="r" cx="2517" cy="1496" r="18.5"/><circle id="f-l4" class="r" cx="2507" cy="1569" r="21"/><circle id="f-l5" class="r" cx="2370" cy="1643" r="18.5"/>
<circle id="f-lip-hub" class="h" cx="2389" cy="1544" r="19"/>
</g>
<g id="f-others">
<circle id="f-o1" class="r" cx="1982" cy="1612" r="23"/><circle id="f-o2" class="b" cx="1974" cy="1692" r="14.5"/><circle id="f-o3" class="r" cx="2053" cy="1747" r="21"/>
<circle id="f-oth-hub" class="h" cx="2091" cy="1659" r="19"/>
</g>
<g id="f-organic">
<circle id="f-g1" class="b" cx="2472" cy="1697" r="20"/><circle id="f-g2" class="r" cx="2548" cy="1706" r="23"/><circle id="f-g3" class="r" cx="2615" cy="1741" r="11.5"/><circle id="f-g4" class="b" cx="2366" cy="1807" r="24"/><circle id="f-g5" class="r" cx="2580" cy="1793" r="14.5"/><circle id="f-g6" class="r" cx="2626" cy="1840" r="23"/><circle id="f-g7" class="b" cx="2554" cy="1870" r="20"/><circle id="f-g8" class="r" cx="2393" cy="1893" r="12.5"/><circle id="f-g9" class="r" cx="2586" cy="1921" r="19"/><circle id="f-g10" class="b" cx="2447" cy="1935" r="21"/><circle id="f-g11" class="r" cx="2511" cy="1940" r="19"/>
<circle id="f-org-hub" class="h" cx="2474" cy="1805" r="19"/>
</g>
<g id="f-amino">
<circle id="f-m1" class="b" cx="1950" cy="1834" r="19"/><circle id="f-m2" class="r" cx="2017" cy="1824" r="23"/><circle id="f-m3" class="r" cx="2096" cy="1831" r="12.5"/><circle id="f-m4" class="r" cx="1896" cy="1890" r="21"/><circle id="f-m5" class="b" cx="2158" cy="1880" r="18.5"/><circle id="f-m6" class="b" cx="1947" cy="1920" r="14.5"/><circle id="f-m7" class="r" cx="2173" cy="1949" r="21"/><circle id="f-m8" class="r" cx="1896" cy="1974" r="24"/><circle id="f-m9" class="r" cx="1973" cy="1996" r="16"/><circle id="f-m10" class="b" cx="1922" cy="2035" r="19"/><circle id="f-m11" class="r" cx="2112" cy="2015" r="12.5"/><circle id="f-m12" class="b" cx="2178" cy="2018" r="17"/><circle id="f-m13" class="r" cx="2035" cy="2044" r="15.5"/><circle id="f-m14" class="b" cx="1972" cy="2077" r="14.5"/><circle id="f-m15" class="r" cx="2124" cy="2080" r="21"/><circle id="f-m16" class="r" cx="2053" cy="2099" r="23"/>
<circle id="f-ami-hub" class="h" cx="2051" cy="1934" r="19"/>
</g>
<g id="f-root"><circle class="c" cx="2228" cy="1656" r="17"/></g>
<text class="pl" x="1883" y="1151">f</text>
<text class="lb" x="2307" y="1264">Carbohydrates</text>
<text class="lb" x="1930" y="1531">Others</text>
<text class="lb" x="2597" y="1534">Lipids</text>
<text class="lb" x="2378" y="2016">Organic acids</text>
<text class="lb" x="2195" y="2093">Amino acids</text>
</g>

<!-- Legend -->
<g id="legend">
<text x="2765" y="1039" style="font-size:40px" textLength="203" lengthAdjust="spacingAndGlyphs">Coefficients</text>
<rect class="r" x="2833" y="1057" width="79" height="35"/>
<rect class="b" x="2833" y="1101" width="79" height="36"/>
<text class="lg" x="2928" y="1087" textLength="53" lengthAdjust="spacingAndGlyphs">&gt; 0</text>
<text class="lg" x="2928" y="1132" textLength="53" lengthAdjust="spacingAndGlyphs">&lt; 0</text>
<text class="lg" x="2800" y="1173" textLength="60" lengthAdjust="spacingAndGlyphs">VIP</text>
<circle class="vc" cx="2840" cy="1207" r="10"/>
<circle class="vc" cx="2841" cy="1245" r="15.5"/>
<circle class="vc" cx="2841" cy="1287" r="19.5"/>
<circle class="vc" cx="2840" cy="1335" r="21"/>
<circle class="vc" cx="2843" cy="1389" r="25"/>
<text class="lg" x="2883" y="1215" textLength="72" lengthAdjust="spacingAndGlyphs">0.02</text>
<text class="lg" x="2883" y="1258" textLength="72" lengthAdjust="spacingAndGlyphs">0.39</text>
<text class="lg" x="2883" y="1297" textLength="72" lengthAdjust="spacingAndGlyphs">0.76</text>
<text class="lg" x="2883" y="1345" textLength="72" lengthAdjust="spacingAndGlyphs">1.13</text>
<text class="lg" x="2883" y="1403" textLength="72" lengthAdjust="spacingAndGlyphs">1.50</text>
</g>
</svg>
